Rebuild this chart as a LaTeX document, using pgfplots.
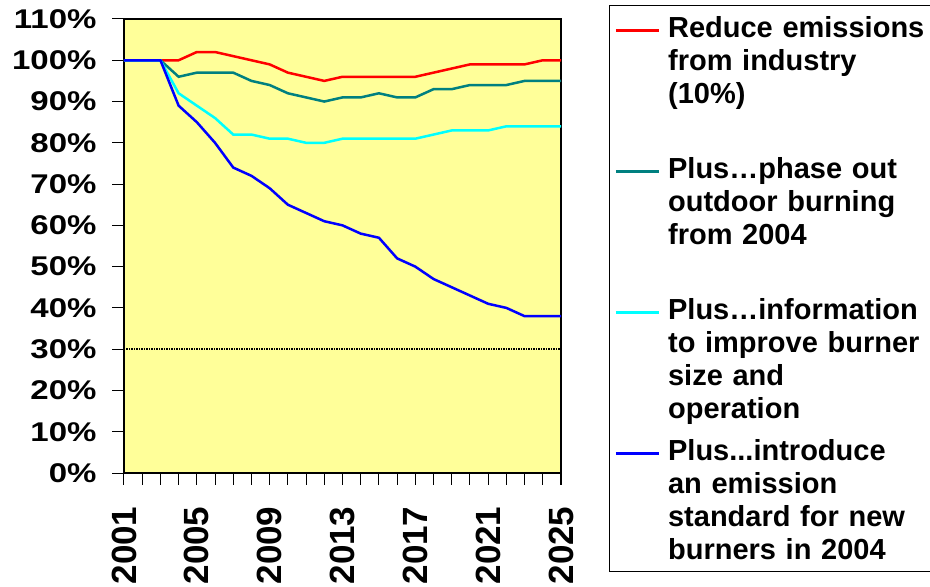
\documentclass[border=0pt]{standalone}
\usepackage{fontspec}
\setmainfont{Liberation Sans}
\usepackage{pgfplots}
\pgfplotsset{compat=1.18}
\definecolor{bgyellow}{RGB}{255,255,153}
\definecolor{tealc}{RGB}{0,128,128}
\definecolor{cyanc}{RGB}{0,255,255}
\newcommand{\yl}[1]{\scalebox{1}[0.82]{#1\%}}
\tikzset{lt/.style={text width=257bp, align=left, text height=24bp, font=\fontsize{29bp}{33bp}\selectfont\bfseries}}
\pgfplotstableread{
year red teal cyan blue
2001 100 100 100 100
2002 100 100 100 100
2003 100 100 100 100
2004 100 96 92 89
2005 102 97 89 85
2006 102 97 86 80
2007 101 97 82 74
2008 100 95 82 72
2009 99 94 81 69
2010 97 92 81 65
2011 96 91 80 63
2012 95 90 80 61
2013 96 91 81 60
2014 96 91 81 58
2015 96 92 81 57
2016 96 91 81 52
2017 96 91 81 50
2018 97 93 82 47
2019 98 93 83 45
2020 99 94 83 43
2021 99 94 83 41
2022 99 94 84 40
2023 99 95 84 38
2024 100 95 84 38
2025 100 95 84 38
}\datatable
\begin{document}
\begin{tikzpicture}
\useasboundingbox (-124bp,-114bp) rectangle (806bp,473bp);
\begin{axis}[
  at={(0,0)}, anchor=south west,
  scale only axis, width=437bp, height=454bp,
  xmin=2001, xmax=2025, ymin=0, ymax=110,
  axis background/.style={fill=bgyellow},
  axis line style={line width=1.2bp},
  xtick={2001,2005,...,2025},
  xticklabels={2001,2005,2009,2013,2017,2021,2025},
  minor xtick={2001,...,2025},
  ytick={0,10,...,110},
  yticklabels={\yl{0},\yl{10},\yl{20},\yl{30},\yl{40},\yl{50},\yl{60},\yl{70},\yl{80},\yl{90},\yl{100},\yl{110}},
  tick align=outside, tick pos=left,
  major tick length=12bp, minor tick length=12bp,
  tick style={black, line width=1bp},
  xticklabel shift=18bp,
  yticklabel shift=12bp,
  xticklabel style={rotate=90, anchor=east, font=\fontsize{35bp}{35bp}\selectfont\bfseries},
  yticklabel style={anchor=east, font=\fontsize{33bp}{33bp}\selectfont\bfseries},
  legend style={at={(1,1)}, anchor=north west, xshift=48bp, yshift=14bp,
    draw=black, line width=1.2bp, fill=white, inner xsep=5bp, inner ysep=8bp,
    row sep=0pt, column sep=8bp, nodes={inner sep=0pt}, cells={anchor=base west}},
  legend image code/.code={\path (0bp,0bp); \draw[#1, line width=2.5bp] (0bp,7bp) -- (43bp,7bp);},
]
\addplot[red, line width=2.5bp] table[x=year, y=red] {\datatable};
\addlegendentry[lt, text depth=117bp]{Reduce emissions\\from industry\\(10\%)}
\addplot[tealc, line width=2.5bp] table[x=year, y=teal] {\datatable};
\addlegendentry[lt, text depth=117bp]{Plus…phase out\\outdoor burning\\from 2004}
\addplot[cyanc, line width=2.5bp] table[x=year, y=cyan] {\datatable};
\addlegendentry[lt, text depth=117bp]{Plus…information\\to improve burner\\size and\\operation}
\addplot[blue, line width=2.5bp] table[x=year, y=blue] {\datatable};
\addlegendentry[lt, text depth=103bp]{Plus...introduce\\an emission\\standard for new\\burners in 2004}
\addplot[black, densely dotted, line width=1.5bp, forget plot] coordinates {(2001,30) (2025,30)};
\end{axis}
\end{tikzpicture}
\end{document}
